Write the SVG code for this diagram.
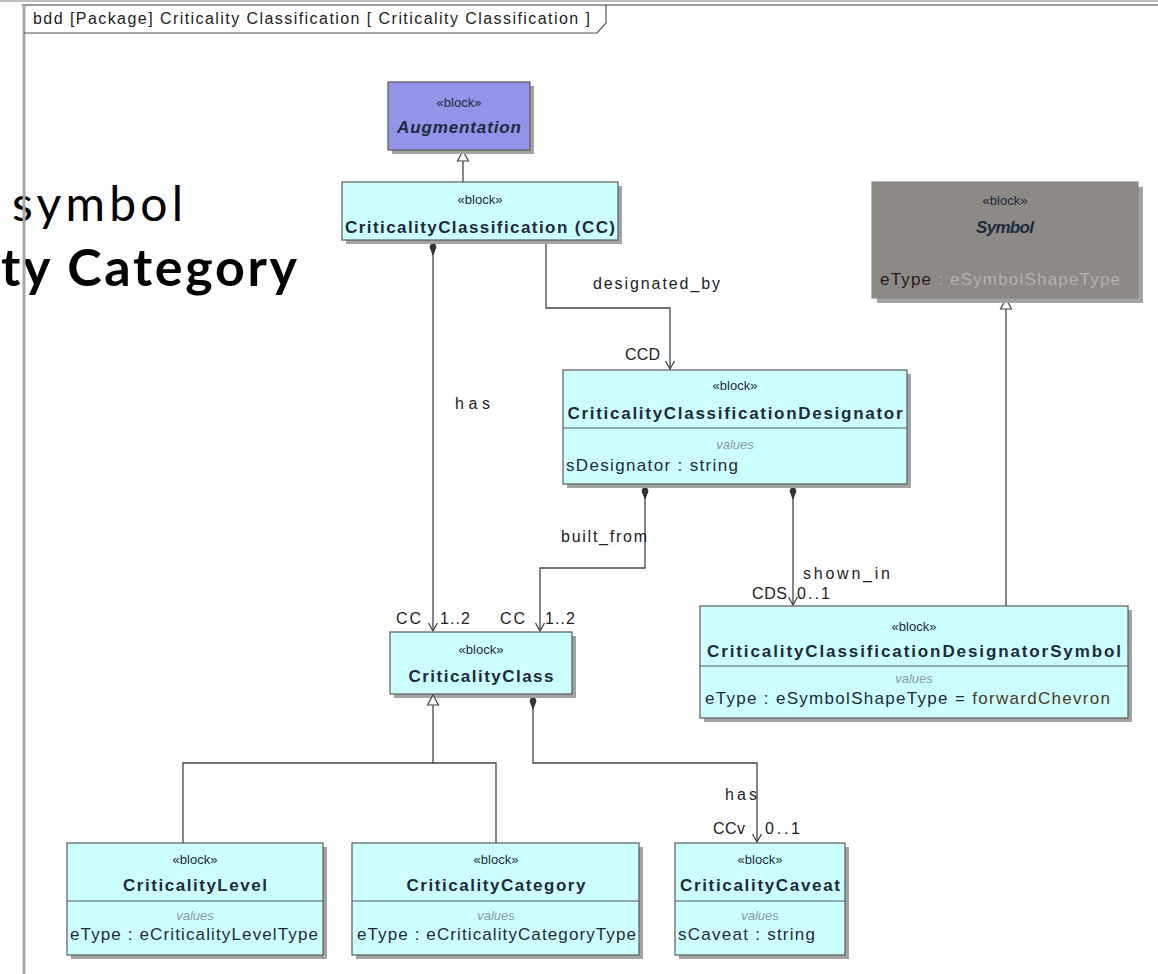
<svg xmlns="http://www.w3.org/2000/svg" width="1158" height="974" viewBox="0 0 1158 974">
  <defs>
    <style>
      .shadow { fill: #a3a3a3; }
      .box { fill: #ccffff; stroke: #5a5a5a; stroke-width: 1.2; }
      .aug { fill: #9393ea; stroke: #5a5a5a; stroke-width: 1.2; }
      .sym { fill: #8d8985; stroke: #8d8985; stroke-width: 1.2; }
      .sep { stroke: #5a5a5a; stroke-width: 1.2; }
      .st { font-family: "Liberation Sans", Arial, sans-serif; font-size: 13px; fill: #1d2a3a; text-anchor: middle; }
      .nm { font-family: "Liberation Sans", Arial, sans-serif; font-size: 17px; font-weight: bold; fill: #1d2a3a; text-anchor: middle; }
      .vl { font-family: "Liberation Sans", Arial, sans-serif; font-size: 13px; font-style: italic; fill: #8a9aa0; text-anchor: middle; }
      .at { font-family: "Liberation Sans", Arial, sans-serif; font-size: 17px; fill: #1d2a3a; }
      .lb { font-family: "Liberation Sans", Arial, sans-serif; font-size: 16px; fill: #222; }
      .ln { fill: none; stroke: #444; stroke-width: 1.3; }
      .ov { font-family: "Lato", "Noto Sans", sans-serif; fill: #000; }
    </style>
    <marker id="open" markerWidth="12" markerHeight="12" refX="10" refY="6" orient="auto" markerUnits="userSpaceOnUse" viewBox="0 0 12 12">
      <path d="M2,1.5 L10,6 L2,10.5" fill="none" stroke="#444" stroke-width="1.3"/>
    </marker>
    <marker id="gen" markerWidth="14" markerHeight="12" refX="7" refY="1" orient="0" markerUnits="userSpaceOnUse" viewBox="0 0 14 12">
      <path d="M7,1 L12.5,11 L1.5,11 Z" fill="#fff" stroke="#444" stroke-width="1.2"/>
    </marker>
    <marker id="comp" markerWidth="8" markerHeight="18" refX="4" refY="1" orient="0" markerUnits="userSpaceOnUse" viewBox="0 0 8 18">
      <path d="M4,1 L7,8 L4,16 L1,8 Z" fill="#333" stroke="#333" stroke-width="1"/>
    </marker>
  </defs>

  <rect width="1158" height="974" fill="#ffffff"/>

  <!-- slide text partly behind the diagram -->
  <text class="ov" x="12" y="221" font-size="48" textLength="171">symbol</text>
  <text class="ov" x="1" y="286" font-size="52" font-weight="bold" textLength="296">ty Category</text>

  <!-- diagram frame -->
  <g id="frame">
    <line x1="0" y1="1" x2="1158" y2="1" stroke="#bdbdbd" stroke-width="2"/>
    <line x1="22" y1="5" x2="1158" y2="5" stroke="#9a9a9a" stroke-width="2"/>
    <line x1="24" y1="5" x2="24" y2="974" stroke="#a8a8a8" stroke-width="3"/>
    <path d="M24,33 L597,33 L606,23 L606,5" fill="none" stroke="#555" stroke-width="1.2"/>
    <text class="lb" x="33" y="24" font-size="15" textLength="557">bdd [Package] Criticality Classification [ Criticality Classification ]</text>
  </g>

  <!-- connectors -->
  <g id="connectors">
    <!-- CC generalizes Augmentation -->
    <line class="ln" x1="463" y1="182" x2="463" y2="151" marker-end="url(#gen)"/>
    <!-- has: CC to CriticalityClass -->
    <path class="ln" d="M433,240 L433,631" marker-start="url(#comp)" marker-end="url(#open)"/>
    <!-- designated_by -->
    <path class="ln" d="M546,240 L546,308 L670,308 L670,369" marker-end="url(#open)"/>
    <!-- built_from -->
    <path class="ln" d="M645,484 L645,568 L540,568 L540,631" marker-start="url(#comp)" marker-end="url(#open)"/>
    <!-- shown_in -->
    <path class="ln" d="M793,484 L793,605" marker-start="url(#comp)" marker-end="url(#open)"/>
    <!-- CCDS generalizes Symbol -->
    <line class="ln" x1="1006" y1="606" x2="1006" y2="299" marker-end="url(#gen)"/>
    <!-- Level / Category generalize CriticalityClass -->
    <path class="ln" d="M433,695 L433,763"/>
    <path class="ln" d="M183,843 L183,763 L496,763 L496,843"/>
    <!-- has: CriticalityClass to CriticalityCaveat -->
    <path class="ln" d="M533,694 L533,763 L757,763 L757,842" marker-start="url(#comp)" marker-end="url(#open)"/>

    <!-- labels -->
    <text class="lb" x="455" y="409" textLength="35">has</text>
    <text class="lb" x="593" y="289" textLength="127">designated_by</text>
    <text class="lb" x="625" y="360" textLength="35">CCD</text>
    <text class="lb" x="561" y="542" textLength="86">built_from</text>
    <text class="lb" x="803" y="579" textLength="87">shown_in</text>
    <text class="lb" x="752" y="599" textLength="35">CDS</text>
    <text class="lb" x="797" y="599" textLength="33">0..1</text>
    <text class="lb" x="396" y="624" textLength="25">CC</text>
    <text class="lb" x="440" y="624" textLength="30">1..2</text>
    <text class="lb" x="500" y="624" textLength="25">CC</text>
    <text class="lb" x="545" y="624" textLength="30">1..2</text>
    <text class="lb" x="725" y="800" textLength="32">has</text>
    <text class="lb" x="713" y="834" textLength="32">CCv</text>
    <text class="lb" x="765" y="834" textLength="35">0..1</text>
  </g>

  <g id="augmentation">
    <rect class="shadow" x="392" y="86" width="142" height="68"/>
    <rect class="aug" x="388" y="82" width="142" height="68"/>
    <text class="st" x="459" y="107" fill="#1a1a60">«block»</text>
    <text class="nm" x="459" y="133" font-style="italic" fill="#121850" textLength="124">Augmentation</text>
  </g>

  <g id="criticality-classification">
    <rect class="shadow" x="346" y="186" width="276" height="58"/>
    <rect class="box" x="342" y="182" width="276" height="58"/>
    <text class="st" x="480" y="204">«block»</text>
    <text class="nm" x="480" y="233" textLength="270">CriticalityClassification (CC)</text>
  </g>

  <g id="symbol">
    <rect class="shadow" x="877" y="187" width="266" height="116" fill="#b5b5b5"/>
    <rect class="sym" x="872" y="182" width="266" height="116"/>
    <text class="st" x="1005" y="205" fill="#1a1a1a">«block»</text>
    <text class="nm" x="1005" y="233" font-style="italic" font-weight="normal" fill="#1a1a1a" textLength="58">Symbol</text>
    <text class="at" x="880" y="285" textLength="240"><tspan fill="#2a1a1a">eType</tspan><tspan fill="#b4b0ac"> : eSymbolShapeType</tspan></text>
  </g>

  <g id="designator">
    <rect class="shadow" x="567" y="374" width="344" height="114"/>
    <rect class="box" x="563" y="370" width="344" height="114"/>
    <line class="sep" x1="563" y1="428" x2="907" y2="428"/>
    <text class="st" x="735" y="390">«block»</text>
    <text class="nm" x="735" y="419" textLength="335">CriticalityClassificationDesignator</text>
    <text class="vl" x="735" y="449">values</text>
    <text class="at" x="566" y="471" textLength="172">sDesignator : string</text>
  </g>

  <g id="designator-symbol">
    <rect class="shadow" x="704" y="610" width="428" height="112"/>
    <rect class="box" x="700" y="606" width="428" height="112"/>
    <line class="sep" x1="700" y1="666" x2="1128" y2="666"/>
    <text class="st" x="914" y="631">«block»</text>
    <text class="nm" x="914" y="657" textLength="414">CriticalityClassificationDesignatorSymbol</text>
    <text class="vl" x="914" y="683">values</text>
    <text class="at" x="705" y="704" textLength="405">eType : eSymbolShapeType = <tspan fill="#4a3a22">forwardChevron</tspan></text>
  </g>

  <g id="criticality-class">
    <rect class="shadow" x="394" y="636" width="182" height="62"/>
    <rect class="box" x="390" y="632" width="182" height="62"/>
    <text class="st" x="481" y="654">«block»</text>
    <text class="nm" x="481" y="682" textLength="145">CriticalityClass</text>
  </g>

  <!-- generalization head drawn above the box shadow -->
  <path d="M433,695 L438.5,705 L427.5,705 Z" fill="#fff" stroke="#444" stroke-width="1.2"/>

  <g id="criticality-level">
    <rect class="shadow" x="71" y="847" width="256" height="112"/>
    <rect class="box" x="67" y="843" width="256" height="112"/>
    <line class="sep" x1="67" y1="901" x2="323" y2="901"/>
    <text class="st" x="195" y="864">«block»</text>
    <text class="nm" x="195" y="891" textLength="144">CriticalityLevel</text>
    <text class="vl" x="195" y="920">values</text>
    <text class="at" x="70" y="940" textLength="248">eType : eCriticalityLevelType</text>
  </g>

  <g id="criticality-category">
    <rect class="shadow" x="356" y="847" width="287" height="112"/>
    <rect class="box" x="352" y="843" width="287" height="112"/>
    <line class="sep" x1="352" y1="901" x2="639" y2="901"/>
    <text class="st" x="496" y="864">«block»</text>
    <text class="nm" x="496" y="891" textLength="179">CriticalityCategory</text>
    <text class="vl" x="496" y="920">values</text>
    <text class="at" x="357" y="940" textLength="279">eType : eCriticalityCategoryType</text>
  </g>

  <g id="criticality-caveat">
    <rect class="shadow" x="679" y="847" width="170" height="112"/>
    <rect class="box" x="675" y="843" width="170" height="112"/>
    <line class="sep" x1="675" y1="901" x2="845" y2="901"/>
    <text class="st" x="760" y="864">«block»</text>
    <text class="nm" x="760" y="891" textLength="160">CriticalityCaveat</text>
    <text class="vl" x="760" y="920">values</text>
    <text class="at" x="678" y="940" textLength="137">sCaveat : string</text>
  </g>
</svg>
